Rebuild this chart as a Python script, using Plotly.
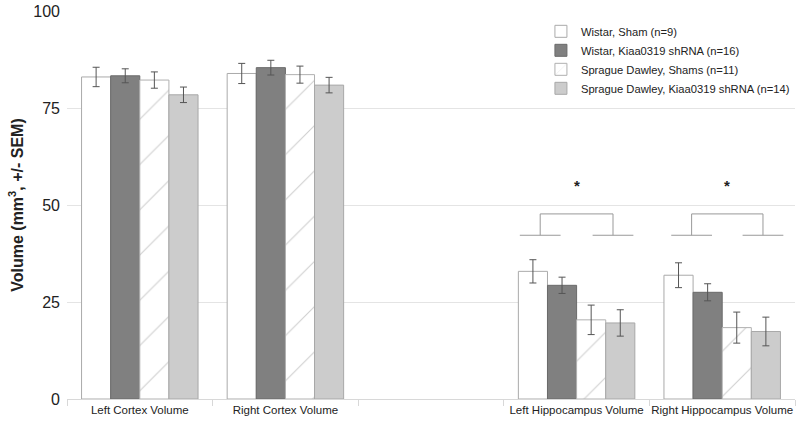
import plotly.graph_objects as go

categories = ["Left Cortex Volume", "Right Cortex Volume", "Left Hippocampus Volume", "Right Hippocampus Volume"]
cat_pos = [0, 1, 3, 4]

series_names = ["Wistar, Sham (n=9)", "Wistar, Kiaa0319 shRNA (n=16)",
                "Sprague Dawley, Shams (n=11)", "Sprague Dawley, Kiaa0319 shRNA (n=14)"]
wistar_sham = [83.0, 83.9, 32.9, 31.9]
wistar_sham_err = [2.5, 2.6, 3.0, 3.2]
wistar_kiaa = [83.3, 85.4, 29.3, 27.5]
wistar_kiaa_err = [1.8, 1.9, 2.1, 2.2]
sd_sham = [82.2, 83.6, 20.4, 18.4]
sd_sham_err = [2.1, 2.2, 3.8, 4.0]
sd_kiaa = [78.4, 80.9, 19.6, 17.4]
sd_kiaa_err = [2.0, 2.0, 3.4, 3.7]

y_ticks = [0, 25, 50, 75, 100]

# significance brackets (data coords)
bracket_left = [2.75, 3.25]
bracket_right = [3.79, 4.28]
bracket_top = 47.7
bracket_low = 42.2
bracket_half = 0.14
star_y = 55

FONT = "Liberation Sans, Arial, sans-serif"

fig = go.Figure()
styles = [
    dict(color="white", line=dict(color="#aaaaaa", width=1)),
    dict(color="#808080", line=dict(color="#6a6a6a", width=1)),
    dict(color="white", line=dict(color="#b0b0b0", width=1),
         pattern=dict(shape="/", size=32, solidity=0.035, fgcolor="#a0a0a0", bgcolor="white")),
    dict(color="#cccccc", line=dict(color="#a8a8a8", width=1)),
]
vals = [wistar_sham, wistar_kiaa, sd_sham, sd_kiaa]
errs = [wistar_sham_err, wistar_kiaa_err, sd_sham_err, sd_kiaa_err]
for name, v, e, st in zip(series_names, vals, errs, styles):
    fig.add_trace(go.Bar(
        x=cat_pos, y=v, name=name, marker=st,
        error_y=dict(type="data", array=e, color="#555555", thickness=1, width=3.5),
    ))

shapes = []
for (xa, xb) in [bracket_left, bracket_right]:
    line = dict(color="#999999", width=1)
    shapes.append(dict(type="line", xref="x", yref="y", x0=xa, x1=xb, y0=bracket_top, y1=bracket_top, line=line))
    for xv in (xa, xb):
        shapes.append(dict(type="line", xref="x", yref="y", x0=xv, x1=xv, y0=bracket_top, y1=bracket_low, line=line))
        shapes.append(dict(type="line", xref="x", yref="y", x0=xv - bracket_half, x1=xv + bracket_half,
                           y0=bracket_low, y1=bracket_low, line=line))
    fig.add_annotation(x=(xa + xb) / 2, y=star_y, text="<b>*</b>", showarrow=False,
                       xref="x", yref="y", font=dict(size=15, color="#222222", family=FONT))

fig.update_layout(
    width=800, height=428,
    margin=dict(l=67, r=5, t=11, b=29, autoexpand=False),
    paper_bgcolor="white", plot_bgcolor="white",
    barmode="group", bargap=0.2, bargroupgap=0,
    shapes=shapes,
    font=dict(family=FONT, color="#222222"),
    legend=dict(x=0.651, y=0.985, xanchor="left", yanchor="top",
                font=dict(size=11.2, family=FONT, color="#222222"),
                bgcolor="rgba(0,0,0,0)", itemwidth=30, tracegroupgap=0),
    xaxis=dict(range=[-0.5, 4.5], tickvals=cat_pos, ticktext=categories, ticks="", tickangle=0,
               showgrid=False, zeroline=False, showline=True, linecolor="#d8d8d8",
               tickfont=dict(size=11.5, family=FONT, color="#222222"),
               minor=dict(tickvals=[-0.5, 0.5, 1.5, 2.5, 3.5, 4.5], ticks="outside", ticklen=6,
                          tickcolor="#d8d8d8", showgrid=False)),
    yaxis=dict(range=[0, 100], tickvals=y_ticks, ticks="", showgrid=True, gridcolor="#e4e4e4",
               zeroline=False, showline=False,
               tickfont=dict(size=16, family=FONT, color="#222222"), ticklabelstandoff=6,
               title=dict(text="<b>Volume (mm<sup>3</sup>, +/- SEM)</b>", standoff=5,
                          font=dict(size=16, family=FONT, color="#222222"))),
)

fig.write_html("out.html", config={"displayModeBar": False},
               post_script="document.body.style.margin='0';document.body.style.overflow='hidden';")
